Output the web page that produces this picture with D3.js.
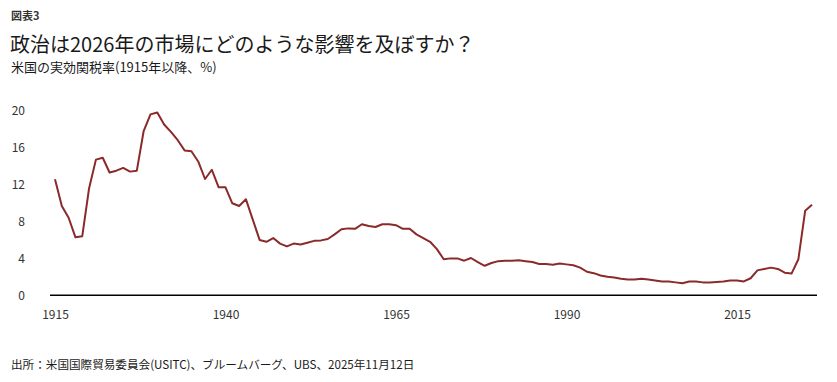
<!DOCTYPE html>
<html>
<head>
<meta charset="utf-8">
<script src="https://cdn.jsdelivr.net/npm/d3@7"></script>
<style>
  html, body { margin: 0; padding: 0; background: #fff; }
  svg { display: block; font-family: "Noto Sans CJK JP", "Noto Sans", sans-serif; }
</style>
</head>
<body>
<svg id="chart" width="837" height="382"></svg>
<script>
const label = "図表3";
const title = "政治は2026年の市場にどのような影響を及ぼすか？";
const subtitle = "米国の実効関税率(1915年以降、%)";
const source = "出所：米国国際貿易委員会(USITC)、ブルームバーグ、UBS、2025年11月12日";

const startYear = 1915;
const tariffRate = [
  12.57, 9.67, 8.4, 6.28, 6.4, 11.6, 14.7, 14.9, 13.3, 13.5,
  13.8, 13.4, 13.5, 17.8, 19.6, 19.8, 18.5, 17.7, 16.8, 15.7,
  15.6, 14.5, 12.6, 13.6, 11.7, 11.7, 9.97, 9.67, 10.4, 8.2,
  6.0, 5.8, 6.2, 5.6, 5.3, 5.6, 5.5, 5.7, 5.9, 5.95,
  6.1, 6.6, 7.15, 7.25, 7.2, 7.7, 7.5, 7.4, 7.7, 7.7,
  7.6, 7.2, 7.2, 6.6, 6.2, 5.8, 5.0, 3.9, 4.0, 4.0,
  3.75, 4.04, 3.6, 3.2, 3.5, 3.7, 3.75, 3.75, 3.8, 3.7,
  3.6, 3.4, 3.4, 3.3, 3.45, 3.35, 3.25, 3.0, 2.55, 2.4,
  2.15, 2.0, 1.93, 1.8, 1.7, 1.7, 1.8, 1.7, 1.6, 1.5,
  1.5, 1.4, 1.3, 1.5, 1.5, 1.4, 1.4, 1.45, 1.5, 1.6,
  1.6, 1.5, 1.85, 2.7, 2.85, 3.0, 2.85, 2.45, 2.35, 3.9,
  9.17, 9.8
];
const years = tariffRate.map((d, i) => startYear + i);
const xTicks = [1915, 1940, 1965, 1990, 2015];
const yTicks = [0, 4, 8, 12, 16, 20];

const svg = d3.select("#chart");

const x = d3.scaleLinear().domain([1915, 2026]).range([55, 812]);
const y = d3.scaleLinear().domain([0, 20]).range([295.3, 110.7]);

// Header texts
svg.append("text").attr("x", 11).attr("y", 20)
  .attr("font-size", 11).attr("font-weight", 700).attr("fill", "#333").text(label);
svg.append("text").attr("x", 10).attr("y", 52)
  .attr("font-size", 20).attr("fill", "#1a1a1a").text(title);
svg.append("text").attr("x", 11).attr("y", 72)
  .attr("font-size", 13).attr("fill", "#1a1a1a").text(subtitle);

// Y axis labels
const yAxis = d3.axisLeft(y).tickValues(yTicks).tickSize(0).tickPadding(0);
const gy = svg.append("g").attr("transform", "translate(25,0)").call(yAxis);
gy.select(".domain").remove();
gy.selectAll("text").attr("font-size", 12).attr("fill", "#333")
  .attr("font-family", "'Noto Sans CJK JP', sans-serif");

// X axis
const xAxis = d3.axisBottom(x).tickValues(xTicks).tickFormat(d3.format("d")).tickSize(0).tickPadding(15);
const gx = svg.append("g").attr("transform", "translate(0,295.3)").call(xAxis);
gx.select(".domain").remove();
gx.selectAll("text").attr("font-size", 12).attr("fill", "#333")
  .attr("font-family", "'Noto Sans CJK JP', sans-serif");

svg.append("line")
  .attr("x1", 50).attr("x2", 817)
  .attr("y1", y(0)).attr("y2", y(0))
  .attr("stroke", "#000").attr("stroke-width", 1.5);

// Line
const line = d3.line().x((d, i) => x(years[i])).y(d => y(d));
svg.append("path").datum(tariffRate)
  .attr("d", line)
  .attr("fill", "none")
  .attr("stroke", "#8b2a2a")
  .attr("stroke-width", 2)
  .attr("stroke-linejoin", "round");

// Source
svg.append("text").attr("x", 11).attr("y", 369)
  .attr("font-size", 11.6).attr("fill", "#1a1a1a").text(source);
</script>
</body>
</html>
